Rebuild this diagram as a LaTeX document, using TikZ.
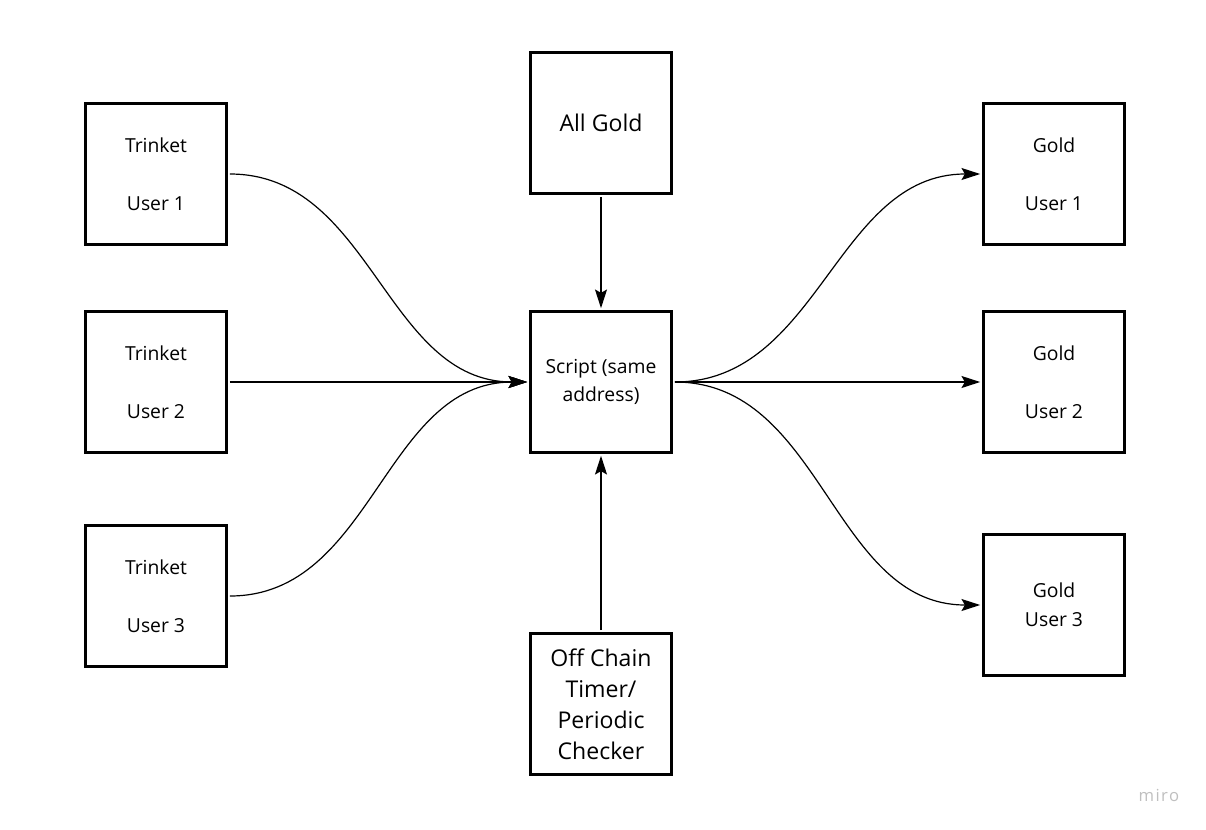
\documentclass[tikz,border=0pt]{standalone}
\usepackage{fontspec}
\setmainfont{Open Sans}
\usetikzlibrary{arrows.meta}
\tikzset{
  box/.style={draw, line width=2.2pt, minimum size=105.75pt, inner sep=0pt,
    outer sep=2.5pt, align=center, font=\fontsize{14.5}{21.75}\selectfont},
  bigbox/.style={box, font=\fontsize{17.3}{23.25}\selectfont},
  arr/.style={line width=0.9pt, -{Stealth[length=14pt,width=9pt,inset=2.5pt]}}
}
\begin{document}
\begin{tikzpicture}[x=0.75pt, y=-0.75pt]
  \useasboundingbox (0,0) rectangle (1206,829);
  \foreach \y/\n in {174/1, 382/2, 596/3}
    \node[box] (trinket\n) at (156,\y) {Trinket\\[21.75pt]User \n};
  \node[box] (gold1) at (1054,174) {Gold\\[21.75pt]User 1};
  \node[box] (gold2) at (1054,382) {Gold\\[21.75pt]User 2};
  \node[box] (gold3) at (1054,605) {Gold\\User 3};
  \node[bigbox] (allgold) at (601,123) {All Gold};
  \node[box, font=\fontsize{14.5}{21}\selectfont] (script) at (601,382) {Script (same\\address)};
  \node[bigbox] (timer) at (601,704) {Off Chain\\Timer/\\Periodic\\Checker};
  \foreach \n in {1,2,3} {
    \draw[arr] (trinket\n.east) to[out=0, in=180] (script.west);
    \draw[arr] (script.east) to[out=0, in=180] (gold\n.west);}
  \draw[arr] (allgold) -- (script);
  \draw[arr] (timer) -- (script);
  \node[text=black!25, font=\fontsize{12.5}{14}\selectfont] (miro) at (1159,795) {m\kern1pt i\kern1pt r\kern1pt o};
\end{tikzpicture}
\end{document}
